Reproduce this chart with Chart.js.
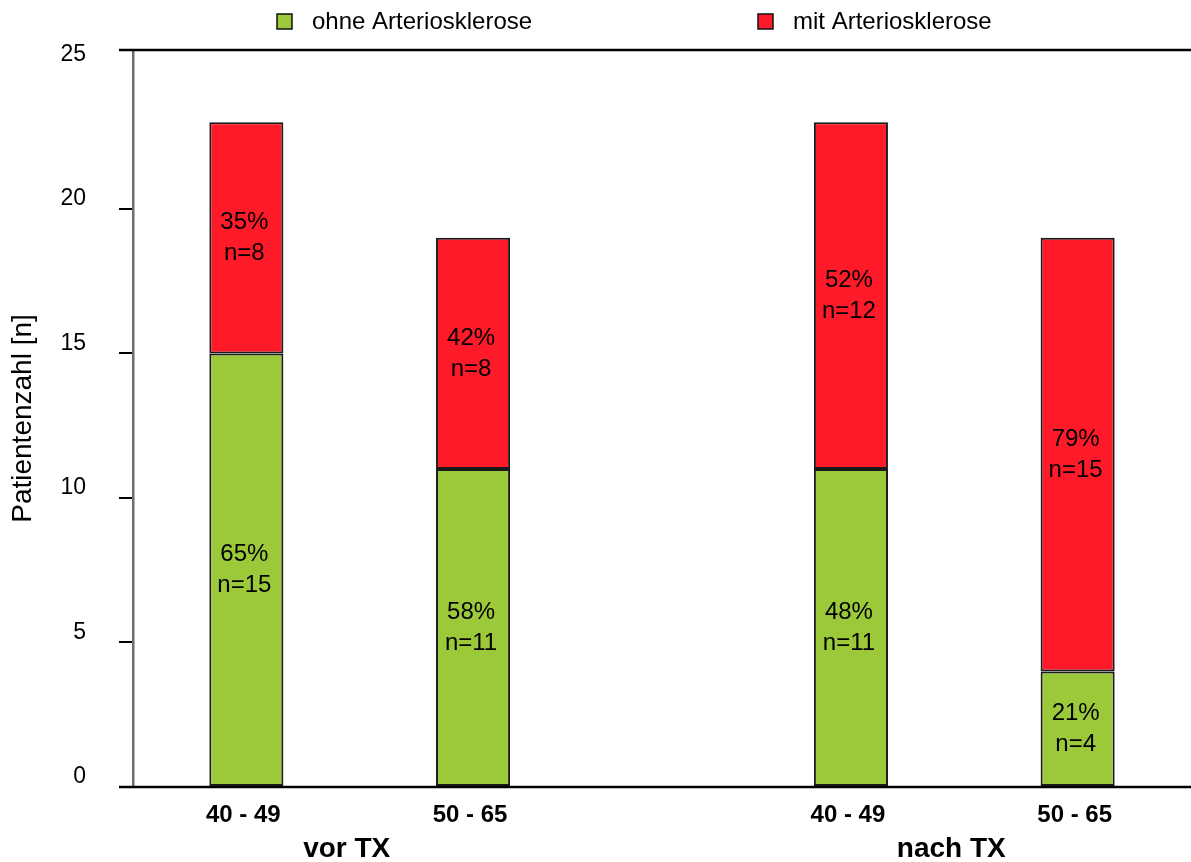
<!DOCTYPE html>
<html>
<head>
<meta charset="utf-8">
<script src="https://cdn.jsdelivr.net/npm/chart.js@4/dist/chart.umd.min.js"></script>
<style>
  body { margin: 0; background: #fff; }
</style>
</head>
<body>
<canvas id="chart" width="1191" height="862"></canvas>
<script>
// Data
const ageGroups = ["40 - 49", "50 - 65", "40 - 49", "50 - 65"];
const phases = ["vor TX", "nach TX"];
const ohneValues = [15, 11, 11, 4];
const mitValues = [8, 8, 12, 15];
const ohnePercent = [65, 58, 48, 21];
const mitPercent = [35, 42, 52, 79];
const yTicks = [0, 5, 10, 15, 20, 25];

// Layout: the x axis is split into 14 equal slots, bars sit in some of them
const slotCount = 14;
const barSlots = [1, 4, 9, 12];
const phaseSlots = [1, 5]; // on the 7-slot group axis

const slotLabels = Array(slotCount).fill("");
const ohneData = Array(slotCount).fill(null);
const mitData = Array(slotCount).fill(null);
barSlots.forEach((s, i) => {
    slotLabels[s] = ageGroups[i];
    ohneData[s] = ohneValues[i];
    mitData[s] = mitValues[i];
});
const phaseLabels = Array(slotCount / 2).fill("");
phaseSlots.forEach((s, i) => { phaseLabels[s] = phases[i]; });

const FONT = "'Liberation Sans', Arial, sans-serif";

// Function to write "xx% / n=y" inside each bar segment
const segmentLabels = {
    id: "segmentLabels",
    afterDatasetsDraw(chart) {
        const ctx = chart.ctx;
        ctx.save();
        ctx.fillStyle = "#000";
        ctx.font = "24px " + FONT;
        ctx.textAlign = "center";
        ctx.textBaseline = "middle";
        chart.data.datasets.forEach((ds, di) => {
            const pcts = di === 0 ? ohnePercent : mitPercent;
            chart.getDatasetMeta(di).data.forEach((bar, j) => {
                const k = barSlots.indexOf(j);
                if (k < 0) return;
                const mid = (bar.y + bar.base) / 2;
                ctx.fillText(pcts[k] + "%", bar.x - 2, mid - 15);
                ctx.fillText("n=" + ds.data[j], bar.x - 2, mid + 16);
            });
        });
        ctx.restore();
    },
};

// Function to draw the top and bottom frame lines
const frameLines = {
    id: "frameLines",
    afterDatasetsDraw(chart) {
        const { ctx, chartArea, width } = chart;
        ctx.save();
        ctx.strokeStyle = "#000";
        ctx.lineWidth = 2.5;
        [chartArea.top, chartArea.bottom].forEach((y) => {
            ctx.beginPath();
            ctx.moveTo(chartArea.left - 14, y);
            ctx.lineTo(width, y);
            ctx.stroke();
        });
        ctx.restore();
    },
};

// Function to draw the legend row at the top
const topLegend = {
    id: "topLegend",
    afterDraw(chart) {
        const ctx = chart.ctx;
        const starts = [277, 758];
        ctx.save();
        ctx.font = "24px " + FONT;
        ctx.textBaseline = "middle";
        ctx.textAlign = "left";
        chart.data.datasets.forEach((ds, i) => {
            const x = starts[i];
            ctx.fillStyle = ds.backgroundColor;
            ctx.fillRect(x, 14, 15, 15);
            ctx.strokeStyle = "#111";
            ctx.lineWidth = 1.5;
            ctx.strokeRect(x, 14, 15, 15);
            ctx.fillStyle = "#000";
            ctx.fillText(ds.label, x + 35, 22);
        });
        ctx.restore();
    },
};

new Chart(document.getElementById("chart"), {
    type: "bar",
    data: {
        labels: slotLabels,
        datasets: [
            {
                label: "ohne Arteriosklerose",
                data: ohneData,
                backgroundColor: "#9bc93a",
                borderColor: "#1a1a1a",
                borderWidth: 2,
                borderSkipped: false,
            },
            {
                label: "mit Arteriosklerose",
                data: mitData,
                backgroundColor: "#ff1a2a",
                borderColor: "#1a1a1a",
                borderWidth: 2,
                borderSkipped: false,
            },
        ],
    },
    options: {
        responsive: false,
        animation: false,
        barPercentage: 0.98,
        categoryPercentage: 1,
        layout: { padding: { top: 50, left: 0, right: 0, bottom: 0 } },
        scales: {
            x: {
                stacked: true,
                position: "bottom",
                weight: 1,
                grid: { display: false },
                border: { display: false },
                ticks: {
                    autoSkip: false,
                    maxRotation: 0,
                    padding: 6,
                    labelOffset: -3,
                    color: "#000",
                    font: { family: FONT, size: 24, weight: "bold" },
                },
                afterFit(scale) { scale.height = 37; },
            },
            x2: {
                type: "category",
                labels: phaseLabels,
                position: "bottom",
                weight: 2,
                grid: { display: false },
                border: { display: false },
                ticks: {
                    autoSkip: false,
                    maxRotation: 0,
                    padding: 0,
                    labelOffset: -13,
                    color: "#000",
                    font: { family: FONT, size: 28, weight: "bold" },
                },
                afterFit(scale) { scale.height = 38; },
            },
            y: {
                stacked: true,
                min: 0,
                max: 25.5,
                afterBuildTicks(scale) {
                    scale.ticks = yTicks.map((v) => ({ value: v }));
                },
                grid: {
                    drawOnChartArea: false,
                    drawTicks: true,
                    tickLength: 14,
                    lineWidth: 2,
                    color: (c) => (c.tick && c.tick.value === 25 ? "rgba(0,0,0,0)" : "#000"),
                },
                border: { display: true, color: "#6e6e6e", width: 2.5 },
                ticks: {
                    padding: 33,
                    labelOffset: -10,
                    color: "#000",
                    font: { family: FONT, size: 23 },
                },
                title: {
                    display: true,
                    text: "Patientenzahl [n]",
                    color: "#000",
                    font: { family: FONT, size: 28 },
                    padding: { top: 6, bottom: 0 },
                },
                afterFit(scale) { scale.width = 133; },
            },
        },
        plugins: {
            legend: { display: false },
            tooltip: { enabled: false },
        },
    },
    plugins: [segmentLabels, frameLines, topLegend],
});
</script>
</body>
</html>
